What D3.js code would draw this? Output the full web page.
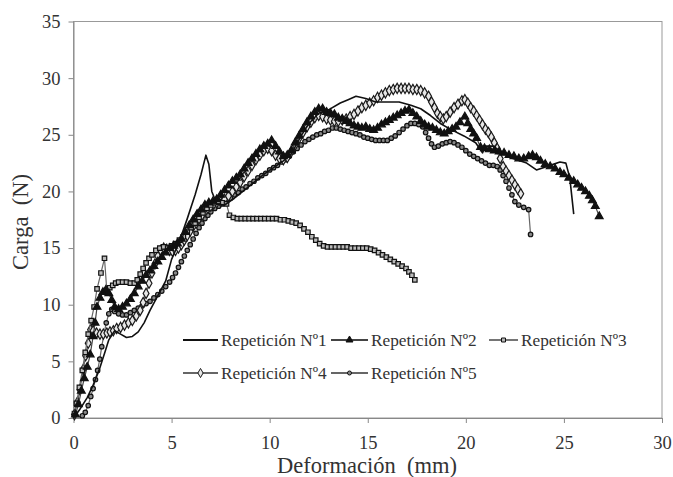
<!DOCTYPE html>
<html>
<head>
<meta charset="utf-8">
<script src="https://cdn.jsdelivr.net/npm/d3@7"></script>
<style>
  html, body { margin: 0; padding: 0; background: #fff; }
  svg { display: block; }
  svg text { font-family: "Liberation Serif", "Times New Roman", Tinos, serif; }
</style>
</head>
<body>
<svg id="chart" width="673" height="477"></svg>
<script>
// ── Data (deformación mm, carga N) ─────────────────────────────────
const rep1 = [[0,0],[0.3,0.7],[0.7,1.8],[1.0,2.9],[1.3,4.2],[1.6,5.8],[1.8,6.9],[2.1,7.7],[2.4,7.4],[2.7,7.1],[3.0,7.2],[3.3,7.6],[3.6,8.4],[3.9,9.5],[4.3,10.8],[4.7,12.1],[5.0,14.0],[5.4,15.6],[5.8,17.6],[6.2,19.7],[6.5,21.5],[6.75,23.2],[6.9,22.4],[7.05,20.0],[7.3,18.9],[7.7,18.8],[8.2,19.4],[8.7,20.1],[9.2,20.8],[9.7,21.5],[10.2,22.1],[10.7,22.7],[11.1,23.3],[11.6,24.9],[12.0,26.0],[12.5,26.9],[13.0,27.2],[13.6,27.8],[14.0,28.1],[14.4,28.4],[14.9,28.2],[15.4,27.9],[16.0,27.9],[16.6,27.9],[17.2,27.6],[17.7,27.3],[18.2,26.7],[18.7,26.0],[19.2,25.5],[19.9,24.9],[20.5,24.3],[20.85,23.4],[21.0,24.0],[21.4,24.0],[21.8,23.5],[22.4,22.9],[23.1,22.5],[23.6,21.9],[24.3,22.3],[24.8,22.6],[25.1,22.5],[25.3,21.2],[25.5,18.0]];

const rep2 = [[0.1,0.3],[0.25,1.2],[0.4,2.4],[0.55,3.5],[0.7,4.5],[0.85,5.6],[1.0,7.2],[1.1,8.4],[1.2,9.8],[1.35,10.6],[1.5,11.1],[1.65,11.3],[1.8,11.0],[1.95,10.4],[2.1,9.8],[2.3,9.6],[2.5,9.8],[2.7,10.1],[2.9,10.5],[3.1,11.0],[3.3,11.6],[3.5,12.1],[3.7,12.6],[3.9,13.0],[4.1,13.4],[4.3,13.8],[4.5,14.2],[4.7,14.6],[4.9,15.0],[5.1,15.2],[5.3,15.4],[5.5,15.8],[5.7,16.4],[5.9,17.0],[6.1,17.5],[6.3,18.0],[6.5,18.4],[6.7,18.8],[6.9,19.0],[7.1,19.1],[7.3,19.3],[7.5,19.7],[7.7,20.1],[7.9,20.5],[8.1,20.9],[8.3,21.2],[8.5,21.5],[8.7,22.0],[8.9,22.5],[9.1,22.9],[9.3,23.3],[9.5,23.7],[9.7,24.0],[9.9,24.2],[10.1,24.5],[10.3,24.0],[10.5,23.5],[10.7,23.1],[10.9,23.2],[11.1,23.6],[11.3,24.3],[11.5,24.9],[11.7,25.5],[11.9,26.1],[12.1,26.6],[12.3,27.0],[12.5,27.3],[12.7,27.3],[12.9,27.0],[13.1,26.9],[13.3,26.8],[13.5,26.5],[13.7,26.4],[13.9,26.2],[14.1,26.0],[14.3,25.8],[14.5,25.7],[14.7,25.6],[14.9,25.7],[15.1,25.5],[15.3,25.4],[15.5,25.6],[15.7,25.9],[15.9,26.1],[16.1,26.3],[16.3,26.5],[16.5,26.7],[16.7,26.9],[16.9,27.1],[17.1,27.2],[17.3,26.9],[17.5,26.6],[17.7,26.2],[17.9,25.9],[18.1,25.7],[18.3,25.6],[18.5,25.4],[18.7,25.2],[18.9,25.1],[19.1,25.3],[19.3,25.5],[19.5,25.7],[19.7,26.1],[19.95,26.6],[20.1,26.0],[20.25,25.5],[20.4,25.1],[20.55,24.7],[20.75,23.9],[20.95,23.8],[21.2,23.7],[21.45,23.6],[21.7,23.5],[21.95,23.4],[22.2,23.2],[22.45,23.1],[22.7,22.9],[22.95,22.9],[23.2,23.1],[23.4,23.2],[23.6,23.0],[23.8,22.7],[24.05,22.4],[24.3,22.2],[24.55,22.0],[24.8,21.7],[25.0,21.5],[25.25,21.2],[25.5,20.9],[25.7,20.6],[25.9,20.3],[26.1,20.0],[26.3,19.6],[26.45,19.2],[26.6,18.7],[26.8,17.8]];

const rep3 = [[0.05,0.4],[0.15,1.3],[0.3,2.7],[0.45,4.2],[0.6,5.8],[0.75,7.4],[0.9,8.6],[1.05,9.8],[1.2,11.4],[1.4,12.8],[1.58,14.1],[1.7,11.2],[1.85,11.5],[2.0,11.7],[2.15,11.9],[2.3,12.0],[2.5,12.0],[2.7,12.0],[2.9,11.9],[3.1,11.9],[3.25,12.2],[3.4,12.7],[3.55,13.2],[3.7,13.7],[3.85,14.1],[4.0,14.4],[4.2,14.8],[4.4,15.0],[4.6,15.1],[4.8,15.0],[5.0,15.2],[5.2,15.4],[5.4,15.7],[5.6,16.0],[5.8,16.4],[6.0,16.8],[6.2,17.2],[6.4,17.7],[6.6,18.1],[6.8,18.5],[7.0,18.8],[7.2,19.0],[7.4,19.1],[7.6,19.0],[7.8,18.9],[7.95,17.9],[8.15,17.7],[8.35,17.6],[8.55,17.6],[8.75,17.6],[8.95,17.6],[9.15,17.6],[9.35,17.6],[9.55,17.6],[9.75,17.6],[9.95,17.6],[10.15,17.6],[10.35,17.6],[10.55,17.5],[10.75,17.5],[10.95,17.4],[11.15,17.3],[11.35,17.2],[11.55,17.0],[11.75,16.7],[11.95,16.4],[12.15,16.0],[12.35,15.7],[12.55,15.4],[12.75,15.2],[12.95,15.1],[13.15,15.1],[13.35,15.1],[13.55,15.1],[13.75,15.1],[13.95,15.1],[14.15,15.0],[14.35,15.0],[14.55,15.0],[14.75,15.0],[14.95,15.0],[15.15,14.9],[15.35,14.8],[15.55,14.6],[15.75,14.4],[15.95,14.2],[16.15,14.0],[16.35,13.8],[16.55,13.6],[16.75,13.4],[16.95,13.2],[17.1,12.9],[17.25,12.6],[17.4,12.2]];

const rep4 = [[0.05,0.3],[0.2,1.4],[0.33,2.5],[0.5,4.3],[0.62,5.5],[0.75,6.6],[0.87,7.8],[1.0,7.7],[1.18,7.5],[1.35,7.4],[1.52,7.4],[1.7,7.5],[1.86,7.6],[2.03,7.7],[2.2,7.9],[2.4,8.0],[2.6,8.2],[2.8,8.4],[3.0,8.6],[3.2,9.0],[3.4,9.5],[3.55,10.2],[3.7,11.0],[3.85,11.9],[4.0,12.8],[4.15,13.6],[4.3,14.3],[4.45,14.8],[4.6,15.0],[4.75,14.9],[4.9,14.8],[5.05,14.7],[5.2,14.8],[5.35,15.0],[5.5,15.3],[5.65,15.7],[5.8,16.1],[5.95,16.5],[6.1,16.9],[6.25,17.2],[6.4,17.6],[6.55,17.9],[6.7,18.2],[6.85,18.5],[7.0,18.7],[7.15,18.9],[7.3,19.0],[7.5,19.1],[7.7,19.3],[7.9,19.6],[8.1,20.0],[8.3,20.4],[8.5,20.8],[8.7,21.3],[8.9,21.8],[9.1,22.3],[9.3,22.8],[9.5,23.2],[9.7,23.6],[9.9,23.8],[10.1,23.6],[10.3,23.2],[10.5,22.9],[10.7,22.8],[10.9,23.0],[11.1,23.5],[11.3,24.1],[11.5,24.7],[11.7,25.2],[11.9,25.7],[12.1,26.1],[12.3,26.5],[12.5,26.7],[12.7,26.6],[12.9,26.4],[13.1,26.3],[13.3,26.2],[13.5,26.2],[13.7,26.3],[13.9,26.4],[14.1,26.6],[14.3,26.8],[14.5,27.1],[14.7,27.4],[14.9,27.6],[15.1,27.8],[15.3,28.0],[15.5,28.3],[15.7,28.5],[15.9,28.7],[16.1,28.9],[16.3,29.0],[16.5,29.1],[16.7,29.1],[16.9,29.1],[17.1,29.1],[17.3,29.0],[17.5,29.0],[17.7,28.9],[17.9,28.7],[18.1,28.4],[18.25,27.9],[18.4,27.4],[18.55,26.9],[18.7,26.6],[18.85,26.4],[19.0,26.6],[19.2,27.0],[19.4,27.4],[19.6,27.7],[19.8,28.0],[19.95,28.1],[20.1,27.8],[20.25,27.4],[20.4,27.1],[20.55,26.7],[20.7,26.3],[20.85,25.9],[21.0,25.5],[21.15,25.2],[21.3,24.8],[21.45,24.3],[21.6,23.8],[21.75,22.9],[21.9,22.2],[22.05,21.8],[22.2,21.4],[22.35,21.0],[22.5,20.6],[22.65,20.2],[22.8,19.8]];

const rep5 = [[0.45,0.2],[0.6,0.5],[0.75,1.1],[0.88,1.9],[1.0,2.6],[1.12,3.4],[1.23,4.2],[1.34,5.2],[1.44,6.3],[1.55,7.4],[1.67,8.4],[1.8,9.2],[1.95,9.6],[2.1,9.4],[2.3,9.2],[2.5,9.1],[2.7,9.1],[2.9,9.3],[3.1,9.5],[3.3,9.7],[3.5,9.9],[3.7,10.1],[3.9,10.3],[4.1,10.6],[4.3,10.9],[4.5,11.2],[4.7,11.6],[4.9,12.0],[5.05,12.4],[5.2,12.8],[5.35,13.3],[5.5,13.8],[5.65,14.3],[5.8,14.8],[5.95,15.3],[6.1,15.8],[6.25,16.3],[6.4,16.8],[6.55,17.2],[6.7,17.6],[6.85,17.9],[7.0,18.2],[7.2,18.5],[7.4,18.7],[7.6,18.9],[7.8,19.1],[8.0,19.4],[8.2,19.7],[8.4,19.9],[8.6,20.2],[8.8,20.4],[9.0,20.7],[9.2,20.9],[9.4,21.2],[9.6,21.4],[9.8,21.6],[10.0,21.9],[10.2,22.1],[10.4,22.3],[10.6,22.6],[10.8,22.8],[11.0,23.1],[11.2,23.5],[11.4,23.8],[11.6,24.1],[11.8,24.4],[12.0,24.6],[12.2,24.8],[12.4,25.0],[12.6,25.1],[12.8,25.3],[13.0,25.4],[13.2,25.6],[13.4,25.6],[13.6,25.5],[13.8,25.4],[14.0,25.3],[14.2,25.2],[14.4,25.1],[14.6,25.0],[14.8,24.8],[15.0,24.7],[15.2,24.6],[15.4,24.5],[15.6,24.5],[15.8,24.5],[16.0,24.5],[16.2,24.7],[16.4,24.9],[16.6,25.2],[16.8,25.5],[17.0,25.8],[17.2,26.0],[17.4,26.0],[17.6,25.9],[17.8,25.7],[17.95,25.2],[18.1,24.7],[18.25,24.2],[18.4,23.9],[18.6,24.0],[18.8,24.2],[19.0,24.3],[19.2,24.4],[19.4,24.3],[19.6,24.1],[19.8,23.9],[20.0,23.6],[20.2,23.3],[20.4,23.1],[20.6,22.9],[20.8,22.7],[21.0,22.5],[21.2,22.3],[21.4,22.3],[21.6,22.2],[21.75,21.9],[21.9,21.4],[22.05,20.9],[22.2,20.3],[22.35,19.7],[22.5,19.1],[22.7,18.8],[22.95,18.6],[23.2,18.4],[23.3,16.2]];

const seriesNames = ['Repetición Nº1', 'Repetición Nº2', 'Repetición Nº3', 'Repetición Nº4', 'Repetición Nº5'];
const xTicks = [0, 5, 10, 15, 20, 25, 30];
const yTicks = [0, 5, 10, 15, 20, 25, 30, 35];

// ── Styles per series ───────────────────────────────────────────────
const SERIES = [
  { name: seriesNames[0], data: rep1, line: '#111', lw: 1.6, symbol: null },
  { name: seriesNames[1], data: rep2, line: '#444', lw: 1.2, symbol: d3.symbolTriangle, size: 26, fill: '#111', stroke: '#111' },
  { name: seriesNames[2], data: rep3, line: '#666', lw: 1.2, symbol: d3.symbolSquare, size: 20, fill: '#bbb', stroke: '#111' },
  { name: seriesNames[3], data: rep4, line: '#666', lw: 1.2, symbol: d3.symbolDiamond, size: 30, fill: '#e6e6e6', stroke: '#1a1a1a' },
  { name: seriesNames[4], data: rep5, line: '#666', lw: 1.2, symbol: d3.symbolCircle, size: 16, fill: '#888', stroke: '#111' },
];

const svg = d3.select('#chart');
const margin = { left: 73.5, top: 21.5, right: 662, bottom: 418 };

const x = d3.scaleLinear().domain([0, 30]).range([margin.left, margin.right]);
const y = d3.scaleLinear().domain([0, 35]).range([margin.bottom, margin.top]);

// Plot frame
svg.append('rect')
  .attr('x', margin.left).attr('y', margin.top)
  .attr('width', margin.right - margin.left)
  .attr('height', margin.bottom - margin.top)
  .attr('fill', 'none').attr('stroke', '#999').attr('stroke-width', 1);

// ── Axes ────────────────────────────────────────────────────────────
const xAxis = svg.append('g')
  .attr('transform', `translate(0,${margin.bottom})`)
  .call(d3.axisBottom(x).tickValues(xTicks).tickSize(5).tickPadding(13).tickSizeOuter(0));
const yAxis = svg.append('g')
  .attr('transform', `translate(${margin.left},0)`)
  .call(d3.axisLeft(y).tickValues(yTicks).tickSize(5).tickPadding(8).tickSizeOuter(0));

[xAxis, yAxis].forEach(ax => {
  ax.attr('font-family', null);
  ax.select('.domain').attr('stroke', '#888');
  ax.selectAll('.tick line').attr('stroke', '#888');
  ax.selectAll('.tick text')
    .attr('fill', '#333')
    .style('font-size', '18.5px');
});

svg.append('text')
  .attr('x', 367).attr('y', 473)
  .attr('text-anchor', 'middle')
  .attr('fill', '#333')
  .style('font-size', '22.5px')
  .style('white-space', 'pre')
  .text('Deformación  (mm)');

svg.append('text')
  .attr('transform', 'translate(28,222) rotate(-90)')
  .attr('text-anchor', 'middle')
  .attr('fill', '#333')
  .style('font-size', '22.5px')
  .style('white-space', 'pre')
  .text('Carga  (N)');

// ── Series ──────────────────────────────────────────────────────────
const line = d3.line().x(d => x(d[0])).y(d => y(d[1]));
const plot = svg.append('g');

SERIES.slice().reverse().forEach(s => {
  plot.append('path')
    .datum(s.data)
    .attr('d', line)
    .attr('fill', 'none')
    .attr('stroke', s.line)
    .attr('stroke-width', s.lw)
    .attr('stroke-linejoin', 'round');

  if (s.symbol) {
    plot.append('g').selectAll('path')
      .data(s.data)
      .join('path')
        .attr('transform', d => `translate(${x(d[0])},${y(d[1])})`)
        .attr('d', d3.symbol(s.symbol, s.size))
        .attr('fill', s.fill)
        .attr('stroke', s.stroke)
        .attr('stroke-width', 1.2);
  }
});

// ── Legend ──────────────────────────────────────────────────────────
const LEGEND_POS = [
  { x: 183, y: 340, w: 35 },
  { x: 331, y: 340, w: 37 },
  { x: 489, y: 340, w: 29 },
  { x: 183, y: 373, w: 35 },
  { x: 331, y: 373, w: 37 },
];

const legend = svg.append('g');
SERIES.forEach((s, i) => {
  const p = LEGEND_POS[i];
  const g = legend.append('g').attr('transform', `translate(${p.x},${p.y})`);
  g.append('line')
    .attr('x1', 0).attr('x2', p.w)
    .attr('stroke', s.line).attr('stroke-width', s.lw + 0.6);
  if (s.symbol) {
    g.append('path')
      .attr('transform', `translate(${p.w / 2},0)`)
      .attr('d', d3.symbol(s.symbol, s.size * 0.8))
      .attr('fill', s.fill).attr('stroke', s.stroke);
  }
  g.append('text')
    .attr('x', p.w + 3).attr('dy', '0.35em')
    .attr('fill', '#333')
    .style('font-size', '17.3px')
    .text(s.name);
});
</script>
</body>
</html>
